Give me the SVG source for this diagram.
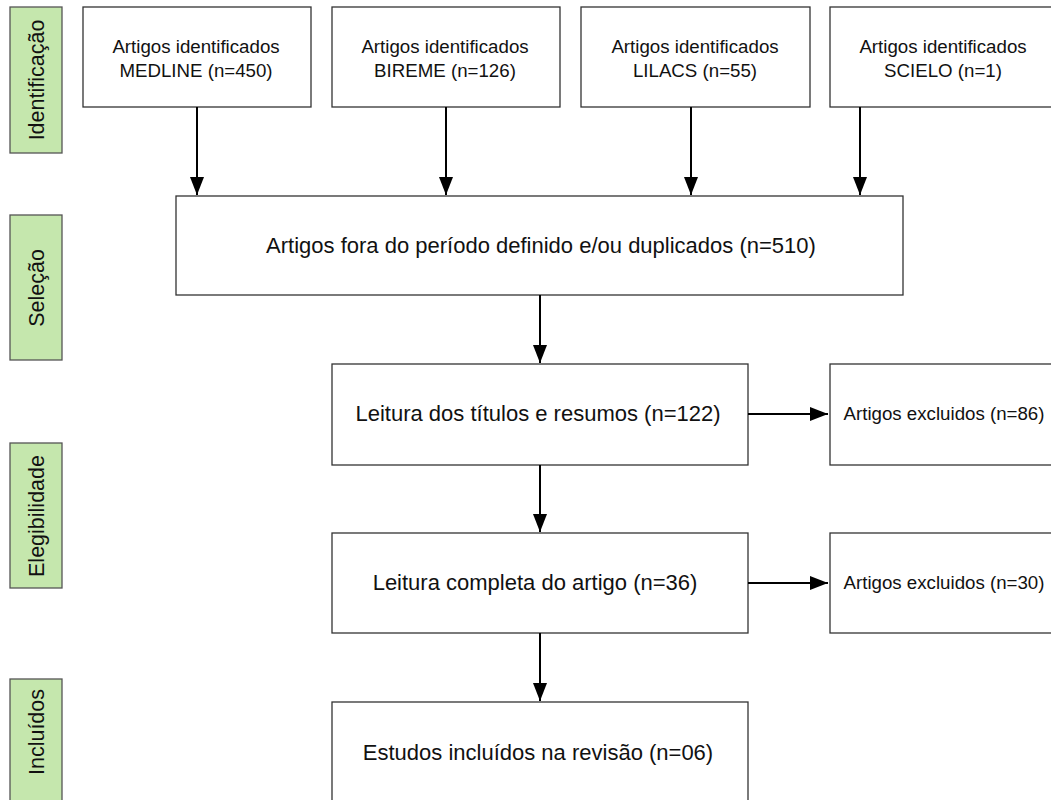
<svg xmlns="http://www.w3.org/2000/svg" width="1051" height="800" viewBox="0 0 1051 800">
<style>
.box{fill:#fff;stroke:#333;stroke-width:1.3}
.side{fill:#c5e7ad;stroke:#555;stroke-width:1.3}
.t{font-family:"Liberation Sans",Arial,sans-serif;fill:#111;text-anchor:middle}
.s15{font-size:18.7px}
.s19{font-size:22px}
.s17{font-size:21.5px}
</style>
<defs>
<marker id="av" viewBox="0 0 14 18" markerWidth="14" markerHeight="18" refX="7" refY="18" orient="0" markerUnits="userSpaceOnUse">
<path d="M0,0 L14,0 L7,18 Z" fill="#000"/>
</marker>
<marker id="ar" viewBox="0 0 18 14" markerWidth="18" markerHeight="14" refX="18" refY="7" orient="0" markerUnits="userSpaceOnUse">
<path d="M0,0 L18,7 L0,14 Z" fill="#000"/>
</marker>
</defs>
<rect width="1051" height="800" fill="#fff"/>
<g id="side-identificacao"><rect class="side" x="10" y="7" width="52" height="146"/><text class="t s17" transform="translate(44,80) rotate(-90)">Identificação</text></g>
<g id="side-selecao"><rect class="side" x="10" y="215" width="52" height="145"/><text class="t s17" transform="translate(44,288) rotate(-90)">Seleção</text></g>
<g id="side-elegibilidade"><rect class="side" x="10" y="443" width="52" height="145"/><text class="t s17" transform="translate(44,516) rotate(-90)">Elegibilidade</text></g>
<g id="side-incluidos"><rect class="side" x="10" y="679" width="52" height="140"/><text class="t s17" transform="translate(44,732) rotate(-90)">Incluídos</text></g>
<g id="n-medline"><rect class="box" x="83" y="7" width="228" height="100"/><text class="t s15" x="196" y="53">Artigos identificados</text><text class="t s15" x="196" y="77">MEDLINE (n=450)</text></g>
<g id="n-bireme"><rect class="box" x="332" y="7" width="228" height="100"/><text class="t s15" x="445" y="53">Artigos identificados</text><text class="t s15" x="445" y="77">BIREME (n=126)</text></g>
<g id="n-lilacs"><rect class="box" x="581" y="7" width="229" height="100"/><text class="t s15" x="695" y="53">Artigos identificados</text><text class="t s15" x="695" y="77">LILACS (n=55)</text></g>
<g id="n-scielo"><rect class="box" x="830" y="7" width="230" height="100"/><text class="t s15" x="943" y="53">Artigos identificados</text><text class="t s15" x="943" y="77">SCIELO (n=1)</text></g>
<g id="n-selecao"><rect class="box" x="176" y="196" width="727" height="99"/><text class="t s19" x="541" y="253">Artigos fora do período definido e/ou duplicados (n=510)</text></g>
<g id="n-titulos"><rect class="box" x="332" y="364" width="416" height="101"/><text class="t s19" x="538" y="421">Leitura dos títulos e resumos (n=122)</text></g>
<g id="n-exc86"><rect class="box" x="830" y="364" width="230" height="101"/><text class="t s15" x="944" y="420">Artigos excluidos (n=86)</text></g>
<g id="n-completa"><rect class="box" x="332" y="533" width="416" height="100"/><text class="t s19" x="535" y="590">Leitura completa do artigo (n=36)</text></g>
<g id="n-exc30"><rect class="box" x="830" y="533" width="230" height="100"/><text class="t s15" x="944" y="589">Artigos excluidos (n=30)</text></g>
<g id="n-estudos"><rect class="box" x="332" y="702" width="416" height="120"/><text class="t s19" x="538" y="760">Estudos incluídos na revisão (n=06)</text></g>
<g id="connectors" stroke="#000" stroke-width="2" fill="none">
<path d="M197,107 V195" marker-end="url(#av)"/>
<path d="M446,107 V195" marker-end="url(#av)"/>
<path d="M691,107 V195" marker-end="url(#av)"/>
<path d="M860,107 V195" marker-end="url(#av)"/>
<path d="M540,295 V363" marker-end="url(#av)"/>
<path d="M540,465 V532" marker-end="url(#av)"/>
<path d="M540,633 V701" marker-end="url(#av)"/>
<path d="M748,414 H828" marker-end="url(#ar)"/>
<path d="M748,583 H828" marker-end="url(#ar)"/>
</g>
</svg>
